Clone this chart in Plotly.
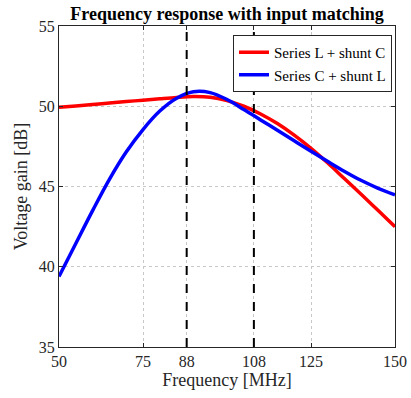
import plotly.graph_objects as go

# Series L + shunt C
freq_red = [50, 55, 60, 65, 70, 75, 80, 85, 90, 95, 100, 105, 110, 115, 120, 125, 130, 135, 140, 145, 150]
gain_red = [49.93, 50.02, 50.11, 50.2, 50.29, 50.38, 50.47, 50.55, 50.6, 50.56, 50.35, 50.0, 49.52, 48.92, 48.2, 47.38, 46.46, 45.48, 44.5, 43.5, 42.5]

# Series C + shunt L
freq_blue = [50, 55, 60, 65, 70, 75, 80, 85, 90, 95, 100, 105, 110, 115, 120, 125, 130, 135, 140, 145, 150]
gain_blue = [39.39, 41.45, 43.5, 45.45, 47.15, 48.55, 49.7, 50.5, 50.9, 50.85, 50.42, 49.8, 49.15, 48.5, 47.85, 47.2, 46.56, 45.94, 45.37, 44.89, 44.48]

x_ticks = [50, 75, 88, 108, 125, 150]
y_ticks = [35, 40, 45, 50, 55]
band_edges = [88, 108]

FONT = "Liberation Serif"

fig = go.Figure()
fig.add_trace(go.Scatter(x=freq_red, y=gain_red, mode="lines", name="Series L + shunt C",
                         line=dict(color="#ff0000", width=3.5, shape="spline", smoothing=1.0)))
fig.add_trace(go.Scatter(x=freq_blue, y=gain_blue, mode="lines", name="Series C + shunt L",
                         line=dict(color="#0000ff", width=3.5, shape="spline", smoothing=1.0)))

for f in band_edges:
    fig.add_shape(type="line", x0=f, x1=f, y0=0, y1=1, xref="x", yref="paper",
                  line=dict(color="black", width=2, dash="dash"))

axis_common = dict(
    showline=True, linecolor="#262626", linewidth=1, mirror="ticks",
    ticks="inside", ticklen=4, tickcolor="#262626",
    showgrid=True, gridcolor="#c8c8c8", griddash="dot", gridwidth=1,
    zeroline=False, automargin=False,
    tickfont=dict(family=FONT, size=16, color="#262626"),
)

fig.update_layout(
    width=411, height=398,
    margin=dict(l=59, r=16, t=26, b=51),
    paper_bgcolor="white", plot_bgcolor="white",
    font=dict(family=FONT, color="#262626"),
    title=dict(text="<b>Frequency response with input matching</b>", x=227/411, xanchor="center",
               y=1 - 14/398, yanchor="middle", font=dict(family=FONT, size=18, color="black")),
    xaxis=dict(range=[50, 150], tickvals=x_ticks, ticktext=[str(v) for v in x_ticks],
               title=dict(text="Frequency [MHz]", font=dict(family=FONT, size=18, color="#262626"), standoff=2),
               **axis_common),
    yaxis=dict(range=[35, 55], tickvals=y_ticks,
               title=dict(text="Voltage gain [dB]", font=dict(family=FONT, size=18, color="#262626"), standoff=6),
               **axis_common),
    legend=dict(x=0.991, y=0.972, xanchor="right", yanchor="top",
                bgcolor="white", bordercolor="#262626", borderwidth=1,
                font=dict(family=FONT, size=15, color="black"), tracegroupgap=0,
                itemwidth=30),
    showlegend=True,
)

fig.write_html("out.html")
